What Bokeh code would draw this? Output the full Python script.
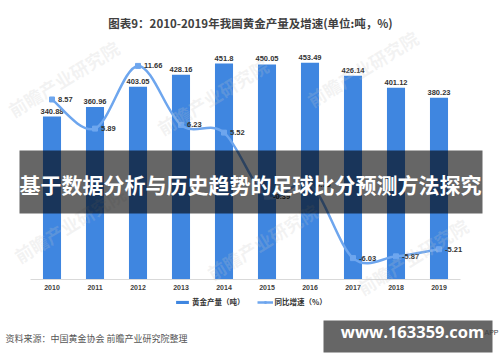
from bokeh.plotting import figure
from bokeh.models import (ColumnDataSource, Range1d, FixedTicker, Label, BoxAnnotation,
                          Legend, LegendItem)
from bokeh.embed import file_html
from bokeh.resources import INLINE
from bokeh.core.properties import value

years = ["2010", "2011", "2012", "2013", "2014", "2015", "2016", "2017", "2018", "2019"]
production = [340.88, 360.96, 403.05, 428.16, 451.8, 450.05, 453.49, 426.14, 401.12, 380.23]
production_labels = ["340.88", "360.96", "403.05", "428.16", "451.8", "450.05", "453.49", "426.14", "401.12", "380.23"]
growth = [8.57, 5.89, 11.66, 6.23, 5.52, -0.39, 0.76, -6.03, -5.87, -5.21]
growth_labels = ["8.57", "5.89", "11.66", "6.23", "5.52", "-0.39", "0.76", "-6.03", "-5.87", "-5.21"]

title_text = "图表9：2010-2019年我国黄金产量及增速(单位:吨，%)"
legend_bar = "黄金产量（吨）"
legend_line = "同比增速（%）"
source_text = "资料来源：中国黄金协会 前瞻产业研究院整理"
banner_text = "基于数据分析与历史趋势的足球比分预测方法探究"
badge_text = "www.163359.com"
watermark_text = "前瞻产业研究院"

CJK = "Noto Sans CJK SC"
NUM = "Liberation Sans"
BAR_COLOR = "#3f86e0"
LINE_COLOR = "#6ea6ee"

W, H = 500, 362
# plot area of the chart: x 30..460 px, y 40..279 px (from top); frame covers whole canvas
PX_L, PX_R, PY_T, PY_B = 30.0, 460.0, 40.0, 279.0
n = len(years)
ux = (PX_R - PX_L) / n
x_start = -0.5 - PX_L / ux
x_end = n - 0.5 + (W - PX_R) / ux
PMAX = 500.0
uy = (PY_B - PY_T) / PMAX
y_start = -(H - PY_B) / uy
y_end = PMAX + PY_T / uy
GMIN, GMAX = -8.0, 14.0
ug = (PY_B - PY_T) / (GMAX - GMIN)
g_start = GMIN - (H - PY_B) / ug
g_end = GMAX + PY_T / ug

p = figure(width=W, height=H, output_backend="svg", toolbar_location=None,
           x_range=Range1d(x_start, x_end), y_range=Range1d(y_start, y_end),
           y_axis_location=None, x_axis_location="below",
           min_border=0, min_border_left=0, min_border_right=0,
           min_border_top=0, min_border_bottom=0)
p.extra_y_ranges = {"growth": Range1d(g_start, g_end)}
p.outline_line_color = None
p.xgrid.visible = False
p.ygrid.visible = False
p.background_fill_color = "white"
p.border_fill_color = "white"

idx = list(range(n))
src = ColumnDataSource(dict(x=idx, prod=production, plab=production_labels,
                            g=growth, glab=growth_labels))

bars = p.vbar(x="x", top="prod", width=0.42, source=src, fill_color=BAR_COLOR, line_color=None)
p.text(x="x", y="prod", text="plab", source=src, text_align="center", text_baseline="bottom",
       y_offset=-3, text_font=value(NUM), text_font_style="bold", text_font_size="7.5px",
       text_color="#333333")

# smooth curve (Catmull-Rom as cubic bezier) through the growth points
bz = dict(x0=[], y0=[], x1=[], y1=[], cx0=[], cy0=[], cx1=[], cy1=[])
for i in range(n - 1):
    pm = max(i - 1, 0)
    pp = min(i + 2, n - 1)
    bz["x0"].append(idx[i]); bz["y0"].append(growth[i])
    bz["x1"].append(idx[i + 1]); bz["y1"].append(growth[i + 1])
    bz["cx0"].append(idx[i] + (idx[i + 1] - idx[pm]) / 6.0)
    bz["cy0"].append(growth[i] + (growth[i + 1] - growth[pm]) / 6.0)
    bz["cx1"].append(idx[i + 1] - (idx[pp] - idx[i]) / 6.0)
    bz["cy1"].append(growth[i + 1] - (growth[pp] - growth[i]) / 6.0)
curve = p.bezier(source=ColumnDataSource(bz), x0="x0", y0="y0", x1="x1", y1="y1",
                 cx0="cx0", cy0="cy0", cx1="cx1", cy1="cy1",
                 line_color=LINE_COLOR, line_width=2.5, y_range_name="growth")
marks = p.scatter(x="x", y="g", source=src, marker="square", size=5,
                  fill_color=LINE_COLOR, line_color=LINE_COLOR, y_range_name="growth")
p.text(x="x", y="g", text="glab", source=src, text_align="left", text_baseline="middle",
       x_offset=6, text_font=value(NUM), text_font_style="bold", text_font_size="7.5px",
       text_color="#333333", y_range_name="growth")

# x axis drawn at production = 0
ax = p.xaxis[0]
ax.fixed_location = 0
ax.bounds = (-0.5, n - 0.5)
ax.ticker = FixedTicker(ticks=idx)
ax.major_label_overrides = {i: y for i, y in zip(idx, years)}
ax.axis_line_color = "#d9d9d9"
ax.major_tick_line_color = None
ax.minor_tick_line_color = None
ax.major_tick_in = 0
ax.major_tick_out = 0
ax.major_label_standoff = 5
ax.major_label_text_font = NUM
ax.major_label_text_font_style = "bold"
ax.major_label_text_font_size = "7px"
ax.major_label_text_color = "#404040"

legend = Legend(items=[LegendItem(label=legend_bar, renderers=[bars]),
                       LegendItem(label=legend_line, renderers=[curve, marks])],
                orientation="horizontal", location=(174, 55),
                glyph_width=16, glyph_height=4, label_height=8, label_standoff=2,
                spacing=12, padding=0, margin=0,
                background_fill_alpha=0, border_line_color=None,
                label_text_font=CJK, label_text_font_style="bold",
                label_text_font_size="7.5px", label_text_color="#333333")
p.add_layout(legend)

# faint watermarks, fully inside the picture
for (wx, wy) in [(16, 122), (165, 140), (315, 112), (22, 268), (215, 285), (365, 300)]:
    p.add_layout(Label(x=wx, y=wy, x_units="canvas", y_units="canvas", text=watermark_text,
                       angle=0.55, text_font=CJK, text_font_style="bold", text_font_size="18px",
                       text_color="#c8c8c8", text_alpha=0.22))

p.add_layout(Label(x=250, y=22, x_units="canvas", y_units="canvas", text=title_text,
                   text_align="center", text_baseline="middle", text_font=CJK,
                   text_font_style="bold", text_font_size="11.5px", text_color="#404040"))

p.add_layout(Label(x=5, y=338, x_units="canvas", y_units="canvas", text=source_text,
                   text_align="left", text_baseline="middle", text_font=CJK,
                   text_font_size="9px", text_color="#555555"))

p.add_layout(BoxAnnotation(left=19, right=482, top=150, bottom=213,
                           left_units="canvas", right_units="canvas",
                           top_units="canvas", bottom_units="canvas",
                           fill_color="black", fill_alpha=0.6, line_color=None))
p.add_layout(Label(x=250, y=183, x_units="canvas", y_units="canvas", text=banner_text,
                   text_align="center", text_baseline="middle", text_font=CJK,
                   text_font_style="bold", text_font_size="21px", text_color="white"))

p.add_layout(BoxAnnotation(left=323, right=492, top=320, bottom=352,
                           left_units="canvas", right_units="canvas",
                           top_units="canvas", bottom_units="canvas",
                           fill_color="black", fill_alpha=0.6, line_color=None))
p.add_layout(Label(x=412, y=331, x_units="canvas", y_units="canvas", text=badge_text,
                   text_align="center", text_baseline="middle", text_font="Open Sans",
                   text_font_style="bold", text_font_size="16.5px", text_color="white"))
p.add_layout(Label(x=484, y=332, x_units="canvas", y_units="canvas", text="APP",
                   text_align="left", text_baseline="middle", text_font=NUM,
                   text_font_size="7px", text_color="#444444"))

open("out.html", "w").write(file_html(p, INLINE))
